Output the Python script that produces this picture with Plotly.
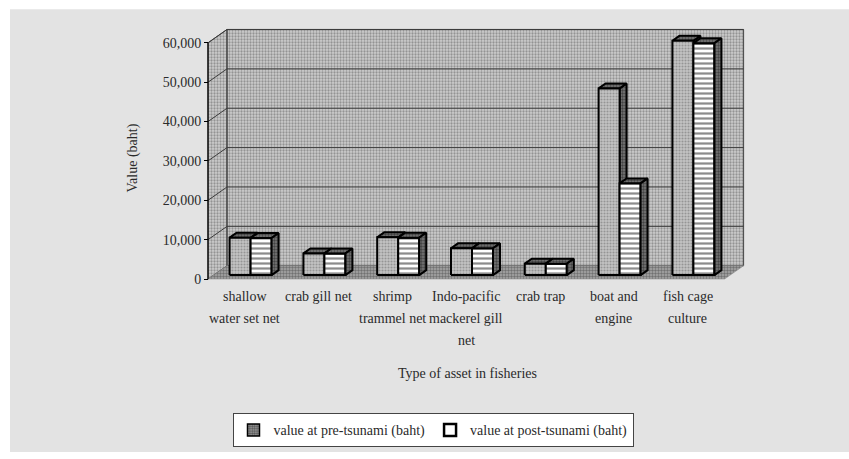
import plotly.graph_objects as go

# ---------------- data ----------------
categories = ["shallow water set net", "crab gill net", "shrimp trammel net",
              "Indo-pacific mackerel gill net", "crab trap", "boat and engine",
              "fish cage culture"]
label_lines = [["shallow", "water set net"], ["crab gill net"], ["shrimp", "trammel net"],
               ["Indo-pacific", "mackerel gill", "net"], ["crab trap"],
               ["boat and", "engine"], ["fish cage", "culture"]]
pre_values = [9500, 5500, 9600, 6800, 2900, 47400, 59500]
post_values = [9400, 5500, 9500, 6800, 2900, 23300, 58900]
series_names = ["value at pre-tsunami (baht)", "value at post-tsunami (baht)"]
y_ticks = [0, 10000, 20000, 30000, 40000, 50000, 60000]
y_title = "Value (baht)"
x_title = "Type of asset in fisheries"

# ---------------- geometry (in axis units) ----------------
W, H = 849, 459
L, R, T, B = 204, 748, 26, 288          # plot area in pixels
px_per_cat = 73.8
px_per_val = 0.003983                    # pixels per baht
x_range = [-0.5 - (208 - L) / px_per_cat, -0.5 + (R - 208) / px_per_cat]
y_range = [-(B - 282) / px_per_val, (282 - T) / px_per_val]
DX = 19 / px_per_cat                     # depth offset in category units
DY = 13.5 / px_per_val                   # depth offset in value units
F1, F2 = 0.30, 0.67                      # bar depth fractions
BW = 21 / px_per_cat                     # single bar width
YMAX = y_ticks[-1]
n = len(categories)

FONT = "Liberation Serif"
TXT = "#2a2a2a"
FS = 14

fig = go.Figure()

def poly(xs, ys, pts):
    for (a, b) in pts + [pts[0]]:
        xs.append(a); ys.append(b)
    xs.append(None); ys.append(None)

def add_poly(pts_list, fillpattern, line_color="black", lw=2, fillcolor=None):
    xs, ys = [], []
    for pts in pts_list:
        poly(xs, ys, pts)
    fig.add_trace(go.Scatter(x=xs, y=ys, mode="lines", fill="toself",
                             fillcolor=fillcolor, fillpattern=fillpattern,
                             line=dict(color=line_color, width=lw),
                             showlegend=False, hoverinfo="skip"))

# walls
x_left, x_right = -0.5, n - 0.5
back = [(x_left + DX, DY), (x_right + DX, DY), (x_right + DX, YMAX + DY), (x_left + DX, YMAX + DY)]
side = [(x_left, 0), (x_left + DX, DY), (x_left + DX, YMAX + DY), (x_left, YMAX)]
floor = [(x_left, 0), (x_right, 0), (x_right + DX, DY), (x_left + DX, DY)]
wall_pat = dict(shape=".", fgcolor="#5a5a5a", bgcolor="#cdcdcd", size=3, solidity=0.45)
add_poly([back, side], wall_pat, line_color="#444", lw=1)
floor_pat = dict(shape=".", fgcolor="#3a3a3a", bgcolor="#a8a8a8", size=3, solidity=0.5)
add_poly([floor], floor_pat, line_color="#888", lw=0.5)

# gridlines on walls
gx, gy = [], []
for v in y_ticks[1:]:
    gx += [x_left, x_left + DX, x_right + DX, None]
    gy += [v, v + DY, v + DY, None]
fig.add_trace(go.Scatter(x=gx, y=gy, mode="lines", line=dict(color="#3c3c3c", width=1),
                         showlegend=False, hoverinfo="skip"))
# front value axis line
fig.add_trace(go.Scatter(x=[x_left, x_left], y=[0, YMAX], mode="lines",
                         line=dict(color="black", width=1.2), showlegend=False, hoverinfo="skip"))

# bars
def faces(x0, x1, h):
    b = F1 * DY
    t = b + h
    ddx, ddy = (F2 - F1) * DX, (F2 - F1) * DY
    front = [(x0, b), (x1, b), (x1, t), (x0, t)]
    top = [(x0, t), (x1, t), (x1 + ddx, t + ddy), (x0 + ddx, t + ddy)]
    sidef = [(x1, b), (x1 + ddx, b + ddy), (x1 + ddx, t + ddy), (x1, t)]
    return front, top, sidef

pre_f, pre_t, pre_s, post_f, post_t, post_s = [], [], [], [], [], []
for i in range(n):
    c = i + F1 * DX
    f, t, s = faces(c - BW, c, pre_values[i])
    pre_f.append(f); pre_t.append(t); pre_s.append(s)
    f, t, s = faces(c, c + BW, post_values[i])
    post_f.append(f); post_t.append(t); post_s.append(s)

dark_pat = dict(shape=".", fgcolor="#111", bgcolor="#777", size=3, solidity=0.5)
pre_pat = dict(shape=".", fgcolor="#666", bgcolor="#c4c4c4", size=3, solidity=0.4)
post_pat = dict(shape="-", fgcolor="#1a1a1a", bgcolor="white", size=5, solidity=0.45)

add_poly(pre_s, dark_pat)
add_poly(pre_t, dark_pat)
add_poly(pre_f, pre_pat)
add_poly(post_f, post_pat)
add_poly(post_t, dark_pat)
add_poly(post_s, dark_pat)

# legend entries
fig.add_trace(go.Bar(x=[None], y=[None], name=series_names[0],
                     marker=dict(color="#333", line=dict(color="black", width=1.5),
                                 pattern=dict(shape=".", fgcolor="#111", bgcolor="#999", size=3, solidity=0.5))))
fig.add_trace(go.Bar(x=[None], y=[None], name=series_names[1],
                     marker=dict(color="white", line=dict(color="black", width=2.5))))

# category labels
for i, lines in enumerate(label_lines):
    for k, txt in enumerate(lines):
        fig.add_annotation(x=i, y=0, xref="x", yref="y", text=txt, showarrow=False,
                           yanchor="middle", xanchor="center", yshift=-(17 + 22 * k),
                           font=dict(family=FONT, size=FS, color=TXT))

pw, ph = R - L, B - T
def pxx(p): return (p - L) / pw
def pyy(p): return (B - p) / ph

fig.add_annotation(x=pxx(133), y=pyy(160), xref="paper", yref="paper", text=y_title,
                   textangle=-90, showarrow=False, xanchor="center", yanchor="middle",
                   font=dict(family=FONT, size=FS, color=TXT))
fig.add_annotation(x=pxx(467), y=pyy(378), xref="paper", yref="paper", text=x_title,
                   showarrow=False, xanchor="center", yanchor="middle",
                   font=dict(family=FONT, size=FS, color=TXT))

fig.update_layout(
    width=W, height=H,
    margin=dict(l=L, r=W - R, t=T, b=H - B, pad=0),
    paper_bgcolor="white", plot_bgcolor="rgba(0,0,0,0)",
    showlegend=True,
    legend=dict(orientation="h", x=pxx(433), y=pyy(435), xanchor="center", yanchor="middle",
                bgcolor="white", bordercolor="#444", borderwidth=1,
                font=dict(family=FONT, size=FS, color=TXT), itemwidth=30,
                tracegroupgap=0),
    shapes=[dict(type="rect", xref="paper", yref="paper", layer="below",
                 x0=pxx(10), x1=pxx(W), y0=pyy(457), y1=pyy(9),
                 fillcolor="#e3e3e3", line=dict(width=0))],
    xaxis=dict(range=x_range, visible=False, showgrid=False, zeroline=False, fixedrange=True),
    yaxis=dict(range=y_range, showgrid=False, zeroline=False, showline=False,
               tickvals=y_ticks, tickformat=",", ticks="outside", ticklen=4,
               tickcolor="black", anchor="free", position=pxx(208),
               tickfont=dict(family=FONT, size=14, color=TXT)),
)

fig.write_html("out.html")
